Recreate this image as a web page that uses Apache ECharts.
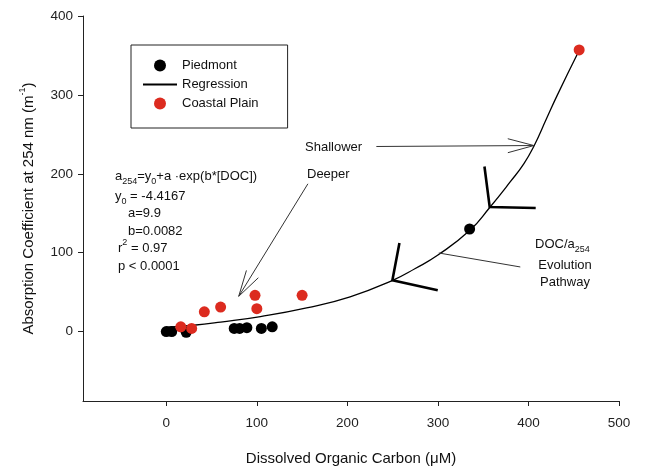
<!DOCTYPE html>
<html>
<head>
<meta charset="utf-8">
<script src="https://cdn.jsdelivr.net/npm/echarts@6.0.0/dist/echarts.min.js"></script>
<style>
  html, body { margin: 0; padding: 0; background: #fff; }
  #main { width: 660px; height: 467px; }
</style>
</head>
<body>
<div id="main"></div>
<script>
// values (DOC in uM, a254 in 1/m)
const piedmont = [
  [0, 0], [6, 0], [22, -1], [75, 4], [81, 4], [89, 5], [105, 4], [117, 6], [335, 130]
];
const coastalPlain = [
  [16, 6], [28, 4], [42, 25], [60, 31], [98, 46], [100, 29], [150, 46], [456, 357]
];
const regression = [
  [0, 5.5], [30, 8], [60, 12], [104, 19], [155, 30], [203, 44], [250, 65], [275, 80],
  [300, 97], [335, 128], [357, 157], [380, 190], [395, 213], [406, 235], [420, 270],
  [432, 300], [455, 354]
];
const xTicks = [0, 100, 200, 300, 400, 500];
const yTicks = [0, 100, 200, 300, 400];

const FONT = 'Liberation Sans, Arial, Helvetica, sans-serif';
const INK = '#111';

const chart = echarts.init(document.getElementById('main'), null, { renderer: 'canvas' });

chart.setOption({
  animation: false,
  backgroundColor: '#fff',
  grid: { left: 83, right: 41, top: 16, bottom: 66, containLabel: false, outerBoundsMode: 'none' },
  legend: {
    orient: 'vertical',
    left: 131,
    top: 45,
    data: [
      'Piedmont',
      { name: 'Regression', itemStyle: { opacity: 0, color: 'rgba(0,0,0,0)', borderWidth: 0 } },
      'Coastal Plain'
    ],
    itemWidth: 34,
    itemHeight: 12,
    itemGap: 6,
    itemTextGap: 14,
    padding: [14, 29, 18, 11],
    borderColor: '#222',
    borderWidth: 1,
    borderRadius: 0,
    selectedMode: false,
    textStyle: { fontFamily: FONT, fontSize: 13, color: INK }
  },
  xAxis: {
    type: 'value',
    min: -92,
    max: 500,
    name: 'Dissolved Organic Carbon (μM)',
    nameLocation: 'middle',
    nameGap: 50,
    nameTextStyle: { fontFamily: FONT, fontSize: 15, color: INK },
    splitLine: { show: false },
    axisLine: { onZero: false, lineStyle: { color: '#222', width: 1 } },
    axisTick: { customValues: xTicks, length: 5, lineStyle: { color: '#222' } },
    axisLabel: { customValues: xTicks, margin: 15, fontFamily: FONT, fontSize: 13.5, color: '#222' }
  },
  yAxis: {
    type: 'value',
    min: -88,
    max: 400,
    name: 'Absorption Coefficient at 254 nm (m{sup|-1})',
    nameLocation: 'middle',
    nameGap: 42,
    nameRotate: 90,
    nameTextStyle: {
      fontFamily: FONT, fontSize: 15, color: INK, lineHeight: 22,
      rich: { sup: { fontFamily: FONT, fontSize: 9, lineHeight: 10, verticalAlign: 'top', color: INK } }
    },
    splitLine: { show: false },
    axisLine: { onZero: false, lineStyle: { color: '#222', width: 1 } },
    axisTick: { customValues: yTicks, length: 5, lineStyle: { color: '#222' } },
    axisLabel: { customValues: yTicks, margin: 10, fontFamily: FONT, fontSize: 13.5, color: '#222' }
  },
  series: [
    {
      name: 'Piedmont',
      type: 'scatter',
      data: piedmont,
      symbolSize: 11,
      itemStyle: { color: '#000', opacity: 1 },
      z: 3
    },
    {
      name: 'Regression',
      type: 'line',
      data: regression,
      smooth: 0.5,
      symbol: 'none',
      itemStyle: { color: '#000' },
      lineStyle: { color: '#000', width: 1.3 },
      z: 2
    },
    {
      name: 'Coastal Plain',
      type: 'scatter',
      data: coastalPlain,
      symbolSize: 11,
      itemStyle: { color: '#dc2b1f', opacity: 1 },
      z: 4
    }
  ]
});

// annotation geometry in data units
const shallowerArrow = { from: [232, 234.6], tip: [406, 235.8] };
const deeperArrow = { from: [156.4, 187.3], tip: [80, 44.7] };
const pathwayLeader = [[301, 99.6], [391, 81.9]];
const chevrons = [
  { up: [257.5, 112.3], joint: [249.7, 64.9], right: [299.8, 52.3] },
  { up: [351.4, 209.2], joint: [357.2, 157.8], right: [408, 156.6] }
];

const px = (p) => chart.convertToPixel({ gridIndex: 0 }, p);

function arrow(a) {
  const s = px(a.from), t = px(a.tip);
  const ang = Math.atan2(s[1] - t[1], s[0] - t[0]);
  const len = 27, spread = 15 * Math.PI / 180;
  const h1 = [t[0] + len * Math.cos(ang + spread), t[1] + len * Math.sin(ang + spread)];
  const h2 = [t[0] + len * Math.cos(ang - spread), t[1] + len * Math.sin(ang - spread)];
  return [
    { type: 'polyline', shape: { points: [s, t] }, style: { stroke: '#333', lineWidth: 1, fill: null }, z: 10 },
    { type: 'polyline', shape: { points: [h1, t, h2] }, style: { stroke: '#333', lineWidth: 1, fill: null }, z: 10 }
  ];
}

const rich = {
  n: { fontFamily: FONT, fontSize: 13, lineHeight: 20, color: INK },
  s: { fontFamily: FONT, fontSize: 9, lineHeight: 10, verticalAlign: 'bottom', color: INK },
  p: { fontFamily: FONT, fontSize: 9, lineHeight: 10, verticalAlign: 'top', color: INK }
};

function label(x, y, text, align) {
  return {
    type: 'text', x: x, y: y, z: 10,
    style: { text: text, rich: rich, align: align || 'left', verticalAlign: 'middle', fontFamily: FONT, fontSize: 13, fill: INK }
  };
}

const graphics = [];
graphics.push(...arrow(shallowerArrow));
graphics.push(...arrow(deeperArrow));
graphics.push({
  type: 'polyline', z: 10,
  shape: { points: pathwayLeader.map(px) },
  style: { stroke: '#333', lineWidth: 1, fill: null }
});
chevrons.forEach(c => {
  graphics.push({
    type: 'polyline', z: 10,
    shape: { points: [px(c.up), px(c.joint), px(c.right)] },
    style: { stroke: '#000', lineWidth: 2.6, fill: null, lineJoin: 'miter' }
  });
});

graphics.push(label(305, 147, '{n|Shallower}'));
graphics.push(label(307, 174, '{n|Deeper}'));
graphics.push(label(535, 244, '{n|DOC/a}{s|254}'));
graphics.push(label(565, 265, '{n|Evolution}', 'center'));
graphics.push(label(565, 282, '{n|Pathway}', 'center'));

graphics.push(label(115, 176, '{n|a}{s|254}{n|=y}{s|0}{n|+a ·exp(b*[DOC])}'));
graphics.push(label(115, 196, '{n|y}{s|0}{n| = -4.4167}'));
graphics.push(label(128, 213, '{n|a=9.9}'));
graphics.push(label(128, 231, '{n|b=0.0082}'));
graphics.push(label(118, 248, '{n|r}{p|2}{n| = 0.97}'));
graphics.push(label(118, 266, '{n|p < 0.0001}'));

chart.setOption({ graphic: graphics });
</script>
</body>
</html>
